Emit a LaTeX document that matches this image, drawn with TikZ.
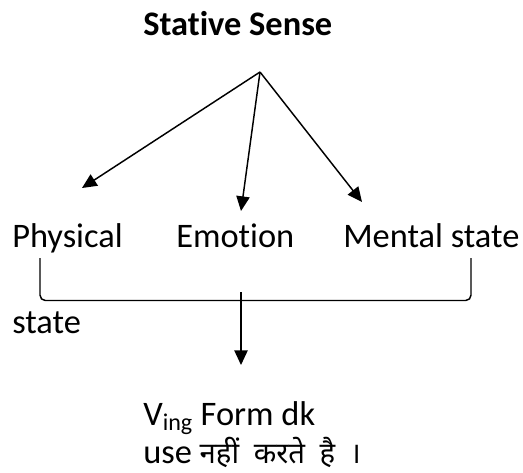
\documentclass[tikz,border=0pt]{standalone}
\usepackage{fontspec}
\setmainfont{Carlito}[Ligatures=NoCommon]
\newfontfamily\hindifont[Script=Devanagari]{Noto Sans}
\usepackage{tikz}
\usetikzlibrary{
  positioning,
  calc,
  arrows.meta
}
\tikzset{
  label text/.style={anchor=base west, inner sep=0pt, font=\fontsize{25.8}{31}\selectfont},
  tip arrow/.style={-{Triangle[length=11pt, width=10pt]}, line width=1.1pt}
}

\begin{document}
\begin{tikzpicture}[x=0.75pt, y=-0.75pt]
      \useasboundingbox (0,0) rectangle (523,472);

      % 見出し
      \node[label text, font=\fontsize{25.8}{31}\selectfont\bfseries] (title) at (143,35) {Stative Sense};

      % 矢印の起点と先端
      \coordinate (top) at (260,72);
      \coordinate (tipP) at (82,188);
      \coordinate (tipE) at (241,211);
      \coordinate (tipM) at (362,202);

      % 三つの種類
      \node[label text] (physical) at (12,247) {Physical};
      \node[label text] (emotion) at (176,247) {Emotion};
      \node[label text] (mental) at (343,247) {Mental state};
      \node[label text] (state) at (12,333) {state};

      % 起点から各種類への矢印
      \draw[tip arrow] (top) -- (tipP);
      \draw[tip arrow] (top) -- (tipE);
      \draw[tip arrow] (top) -- (tipM);

      % 括弧
      \coordinate (bl) at (40,258);
      \coordinate (br) at (471,258);
      \draw[line width=1.1pt, rounded corners=4pt] (bl) -- (40,300.5) -- (471,300.5) -- (br);

      % 括弧から結論への矢印
      \coordinate (down) at (241,292);
      \coordinate (tipV) at (241,365);
      \draw[tip arrow] (down) -- (tipV);

      % 結論
      \node[label text] (ving) at (143,425) {V\textsubscript{ing} Form dk};
      \node[label text] (use) at (143,463) {use {\hindifont\fontsize{22}{26}\selectfont नहीं\enspace करते\enspace है\enspace ।}};
\end{tikzpicture}
\end{document}
